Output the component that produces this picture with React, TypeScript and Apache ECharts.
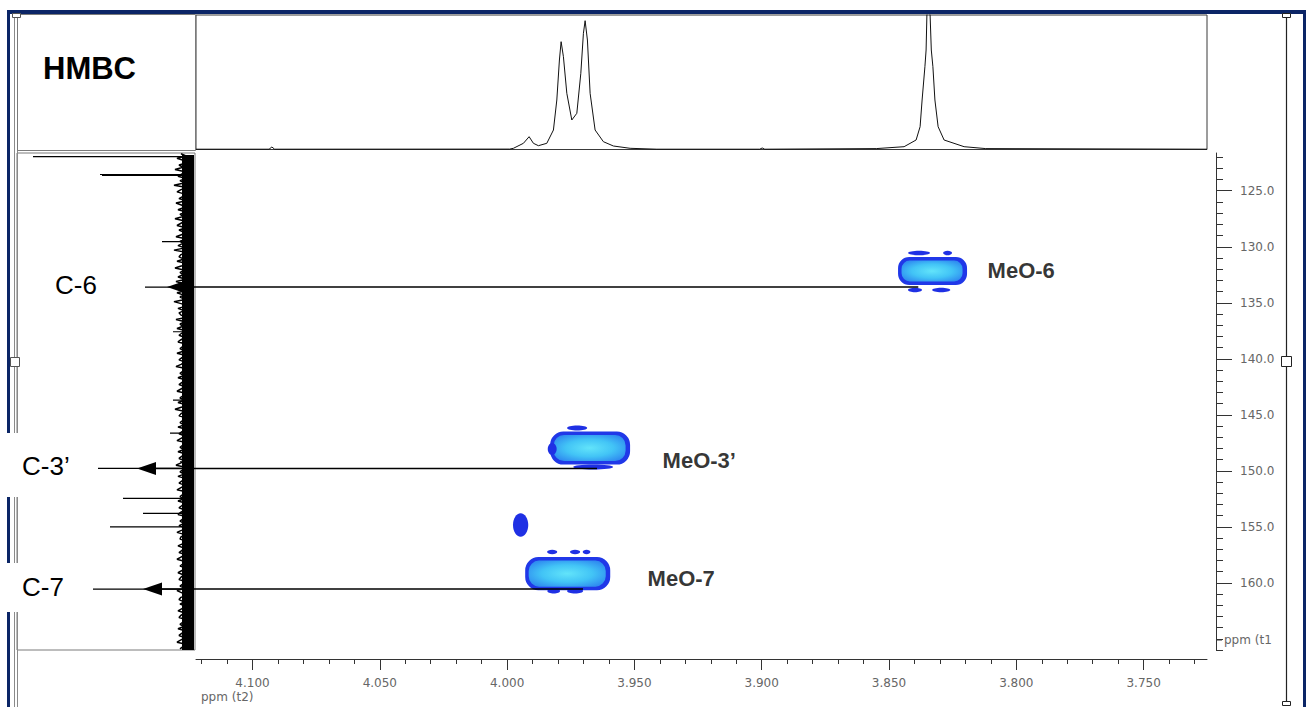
import React, { useEffect, useRef } from 'react';
import * as echarts from 'echarts';

// ---- axis ranges (ppm) ----
const X_MIN = 3.7251;
const X_MAX = 4.1222;
const Y_MIN = 121.63;
const Y_MAX = 166.0;

// ---- tick labels ----
const xMajorTicks = [4.1, 4.05, 4.0, 3.95, 3.9, 3.85, 3.8, 3.75];
const xTickLabels = ['4.100', '4.050', '4.000', '3.950', '3.900', '3.850', '3.800', '3.750'];
const yMajorTicks = [125, 130, 135, 140, 145, 150, 155, 160];
const yTickLabels = ['125.0', '130.0', '135.0', '140.0', '145.0', '150.0', '155.0', '160.0'];

// ---- 1H projection (top): [ppm, intensity] ----
const topSpectrum: [number, number][] = [
  [4.1222, 0.3], [4.0935, 0.3], [4.0924, 2.5], [4.0913, 0.3],
  [3.999, 0.4], [3.99753, 1.2], [3.9936, 6.2], [3.99136, 12.8], [3.98967, 6.2], [3.98771, 3.8],
  [3.98441, 6.2], [3.98181, 19.5], [3.98048, 49.5], [3.97946, 89.5], [3.97879, 107.8], [3.97789, 92.8],
  [3.97655, 56.2], [3.97459, 29.5], [3.97262, 36.2], [3.97105, 76.2], [3.97003, 116.2], [3.96936, 128.8],
  [3.96846, 109.5], [3.9674, 56.2], [3.96544, 19.5], [3.96218, 7.8], [3.95825, 3.5], [3.95169, 1.2],
  [3.9412, 0.3], [3.9008, 0.3], [3.8998, 1.5], [3.8988, 0.3],
  [3.855, 0.9], [3.84407, 2.8], [3.83936, 9.5], [3.83779, 22.8], [3.837, 49.5], [3.8359, 82.8],
  [3.83543, 99.5], [3.83512, 134.5], [3.83464, 140], [3.83386, 134.5], [3.83339, 99.5], [3.83276, 82.8],
  [3.83197, 49.5], [3.83071, 22.8], [3.82836, 9.5], [3.8205, 2.8], [3.812, 0.9], [3.7251, 0.3],
];

// ---- 13C projection (left): noise sampled from 121.7 ppm every 0.2 ppm ----
const leftNoiseStart = 121.7;
const leftNoiseStep = 0.2;
const leftNoise = [
  9, 4, 13, 6, 3, 11, 7, 15, 5, 8, 12, 4, 10, 6, 16, 3, 9, 13, 5, 7, 11, 4, 14, 8, 6, 12, 3, 10, 7, 15, 5, 9, 13, 4, 11, 6, 8, 14, 3, 10,
  7, 12, 5, 16, 4, 9, 11, 6, 13, 3, 8, 15, 5, 10, 7, 12, 4, 14, 6, 9, 11, 3, 13, 7, 10, 5, 16, 8, 4, 12, 6, 11, 9, 3, 14, 5, 10, 7, 13, 4,
  8, 11, 5, 9, 12, 3, 7, 10, 6, 13, 4, 8, 11, 5, 9, 14, 3, 7, 10, 6, 12, 4, 8, 11, 5, 9, 13, 3, 7, 10, 6, 12, 4, 8, 15, 5, 9, 11, 3, 7,
  10, 6, 12, 4, 8, 11, 5, 9, 13, 3, 7, 10, 6, 12, 4, 8, 11, 5, 9, 14, 3, 7, 10, 6, 12, 4, 8, 11, 5, 9, 13, 3, 7, 10, 6, 12, 4, 8, 11, 5,
  9, 12, 3, 7, 10, 6, 11, 4, 8, 13, 5, 9, 10, 3, 7, 12, 6, 8, 11, 4, 9, 13, 5, 7, 10, 3, 8, 12, 6, 9, 11, 4, 7, 10, 5, 13, 8, 3, 9, 11,
  6, 10, 4, 8, 12, 5, 9, 11, 3, 7, 10, 6, 12, 4, 8, 11, 5, 9, 13, 3, 7, 10,
];
// dense noise floor of the projection: [intensity, ppm from, ppm to]
const leftNoiseFloor: [number, number, number] = [2, 121.8, 166.0];
// carbon signals: [ppm, intensity]
const leftPeaks: [number, number][] = [
  [121.96, 157], [123.55, 90], [123.62, 88], [129.55, 28], [133.6, 45], [137.59, 17], [143.69, 17],
  [146.63, 20], [149.2, 10], [149.79, 92], [152.46, 67], [153.8, 47], [155.0, 80], [160.56, 97],
];

// ---- HMBC cross peaks: [ppm t2, ppm t1, width ppm, height ppm] ----
const mainPeaks: [number, number, number, number][] = [
  [3.8329, 132.17, 0.0271, 2.5],
  [3.9674, 147.97, 0.0314, 2.95],
  [3.9762, 159.18, 0.0334, 2.95],
];
const satellitePeaks: [number, number, number, number][] = [
  [3.9947, 154.85, 0.006, 2.1],
  [3.8382, 130.56, 0.0086, 0.4], [3.827, 130.56, 0.0035, 0.4], [3.8398, 133.87, 0.0055, 0.4], [3.8295, 133.87, 0.0071, 0.4],
  [3.9725, 146.19, 0.0079, 0.45], [3.9662, 149.67, 0.0157, 0.45], [3.9823, 148.06, 0.0035, 1.07],
  [3.9823, 157.26, 0.004, 0.4], [3.9733, 157.26, 0.004, 0.4], [3.9688, 157.26, 0.003, 0.4],
  [3.9817, 160.74, 0.005, 0.45], [3.9733, 160.74, 0.0063, 0.45],
];
const peakLabels = ['MeO-6', 'MeO-3\u2019', 'MeO-7'];
const peakLabelAnchors: [number, number][] = [[3.81147, 132.08], [3.93912, 149.04], [3.94501, 159.58]];

// ---- correlation arrows ----
const carbonLabels = ['C-6', 'C-3\u2019', 'C-7'];
const arrowStartX = [3.8385, 3.9647, 3.9702];
const arrowY = [133.6, 149.79, 160.56];
const arrowTipIntensity = [23, 53, 47];

const NAVY = '#0b2566';
const SANS = '"Liberation Sans", Arial, sans-serif';
const AXISFONT = '"DejaVu Sans", sans-serif';

export default function App() {
  const ref = useRef<HTMLDivElement>(null);

  useEffect(() => {
    if (!ref.current) return;
    const chart = echarts.init(ref.current, undefined, { renderer: 'svg' });

    const minorX: number[] = [];
    for (let i = 373; i <= 412; i++) minorX.push(i / 100);
    const minorY: number[] = [];
    for (let i = 122; i <= 166; i++) minorY.push(i);

    const leftNoiseData = leftNoise.map((v, i) => [v, leftNoiseStart + i * leftNoiseStep]);
    const leftFloorData = [
      [leftNoiseFloor[0], leftNoiseFloor[1]],
      [leftNoiseFloor[0], leftNoiseFloor[2]],
    ];
    const leftPeakData: number[][] = [];
    leftPeaks.forEach(([p, v]) => {
      leftPeakData.push([0, p], [v, p], [0, p]);
    });
    const blobData = [
      ...mainPeaks.map((p) => [...p, 0]),
      ...satellitePeaks.map((p) => [...p, 1]),
    ];

    const innerGrad = new echarts.graphic.RadialGradient(0.5, 0.5, 0.6, [
      { offset: 0, color: '#62e4fa' },
      { offset: 0.55, color: '#42c4f6' },
      { offset: 1, color: '#2f8cf0' },
    ]);

    const renderBlob = (params: any, api: any) => {
      const c = api.coord([api.value(0), api.value(1)]);
      const s = api.size([api.value(2), api.value(3)]);
      const w = Math.abs(s[0]);
      const h = Math.abs(s[1]);
      const kind = api.value(4);
      if (kind === 1) {
        return {
          type: 'ellipse',
          shape: { cx: c[0], cy: c[1], rx: w / 2, ry: h / 2 },
          style: { fill: '#1f30e4' },
        };
      }
      const x = c[0] - w / 2;
      const y = c[1] - h / 2;
      const inset = 3.5;
      return {
        type: 'group',
        children: [
          { type: 'rect', shape: { x, y, width: w, height: h, r: h * 0.4 }, style: { fill: '#2038e8' } },
          {
            type: 'rect',
            shape: { x: x + inset, y: y + inset, width: w - 2 * inset - 1, height: h - 2 * inset, r: (h - 2 * inset) * 0.4 },
            style: { fill: innerGrad },
          },
        ],
      };
    };

    const option: any = {
      animation: false,
      backgroundColor: '#ffffff',
      grid: [
        { left: 196, top: 153, width: 1011, height: 497, show: false },
        { left: 196, top: 15, width: 1011, height: 134.5, show: true, borderColor: '#3a3a3a', borderWidth: 1 },
        { left: 17, top: 153, width: 178, height: 497, show: true, borderColor: '#7a7a7a', borderWidth: 1 },
      ],
      xAxis: [
        {
          gridIndex: 0, type: 'value', min: X_MIN, max: X_MAX, inverse: true, position: 'bottom', offset: 9,
          axisLine: { show: true, lineStyle: { color: '#333', width: 1 } },
          axisTick: { show: true, length: 11, customValues: xMajorTicks, lineStyle: { color: '#333' } },
          axisLabel: {
            show: true, customValues: xMajorTicks, margin: 18, color: '#666', fontSize: 12, fontFamily: AXISFONT,
            formatter: (v: number) => {
              const i = xMajorTicks.findIndex((t) => Math.abs(t - v) < 1e-6);
              return i >= 0 ? xTickLabels[i] : '';
            },
          },
          splitLine: { show: false },
        },
        {
          gridIndex: 0, type: 'value', min: X_MIN, max: X_MAX, inverse: true, position: 'bottom', offset: 9,
          axisLine: { show: false },
          axisTick: { show: true, length: 5, customValues: minorX, lineStyle: { color: '#333' } },
          axisLabel: { show: false },
          splitLine: { show: false },
        },
        { gridIndex: 1, type: 'value', min: X_MIN, max: X_MAX, inverse: true, show: false },
        { gridIndex: 2, type: 'value', min: -5, max: 173, inverse: true, show: false },
      ],
      yAxis: [
        {
          gridIndex: 0, type: 'value', min: Y_MIN, max: Y_MAX, inverse: true, position: 'right', offset: 9,
          axisLine: { show: true, lineStyle: { color: '#333', width: 1 } },
          axisTick: { show: true, length: 16, customValues: yMajorTicks, lineStyle: { color: '#333' } },
          axisLabel: {
            show: true, customValues: yMajorTicks, margin: 24, color: '#666', fontSize: 12, fontFamily: AXISFONT,
            formatter: (v: number) => {
              const i = yMajorTicks.findIndex((t) => Math.abs(t - v) < 1e-6);
              return i >= 0 ? yTickLabels[i] : '';
            },
          },
          splitLine: { show: false },
        },
        {
          gridIndex: 0, type: 'value', min: Y_MIN, max: Y_MAX, inverse: true, position: 'right', offset: 9,
          axisLine: { show: false },
          axisTick: { show: true, length: 7, customValues: minorY, lineStyle: { color: '#333' } },
          axisLabel: { show: false },
          splitLine: { show: false },
        },
        { gridIndex: 1, type: 'value', min: 0, max: 134.5, show: false },
        { gridIndex: 2, type: 'value', min: Y_MIN, max: Y_MAX, inverse: true, show: false },
      ],
      series: [
        {
          type: 'line', xAxisIndex: 2, yAxisIndex: 2, data: topSpectrum, showSymbol: false, symbol: 'none',
          lineStyle: { color: '#111', width: 1 }, clip: true, z: 3,
        },
        {
          type: 'line', xAxisIndex: 3, yAxisIndex: 3, data: leftFloorData, showSymbol: false, symbol: 'none',
          lineStyle: { color: '#000', width: 12 }, clip: true, z: 3,
        },
        {
          type: 'line', xAxisIndex: 3, yAxisIndex: 3, data: leftNoiseData, showSymbol: false, symbol: 'none',
          lineStyle: { color: '#000', width: 1.5 }, clip: true, z: 3,
        },
        {
          type: 'line', xAxisIndex: 3, yAxisIndex: 3, data: leftPeakData, showSymbol: false, symbol: 'none',
          lineStyle: { color: '#000', width: 1.2 }, clip: true, z: 3,
        },
        {
          type: 'custom', xAxisIndex: 0, yAxisIndex: 0, data: blobData, renderItem: renderBlob, clip: true, z: 4,
        },
        {
          type: 'scatter', xAxisIndex: 0, yAxisIndex: 0, symbolSize: 1,
          itemStyle: { color: 'rgba(0,0,0,0)' },
          data: peakLabels.map((n, i) => ({ name: n, value: peakLabelAnchors[i] })),
          label: {
            show: true, position: 'right', distance: 0, formatter: '{b}',
            color: '#000', fontSize: 22, fontWeight: 'bold', fontFamily: SANS,
          },
          z: 6,
        },
      ],
    };
    chart.setOption(option);

    // frame & annotations
    const graphics: any[] = [
      { type: 'rect', z: 50, shape: { x: 7, y: 10, width: 1299, height: 4 }, style: { fill: NAVY } },
      { type: 'rect', z: 50, shape: { x: 7, y: 10, width: 3, height: 700 }, style: { fill: NAVY } },
      { type: 'rect', z: 50, shape: { x: 1303, y: 10, width: 3, height: 700 }, style: { fill: NAVY } },
      { type: 'line', z: 50, shape: { x1: 14.5, y1: 14, x2: 14.5, y2: 707 }, style: { stroke: '#8a8a8a', lineWidth: 1 } },
      { type: 'line', z: 50, shape: { x1: 17.5, y1: 14, x2: 17.5, y2: 707 }, style: { stroke: '#8a8a8a', lineWidth: 1 } },
      { type: 'line', z: 50, shape: { x1: 1286.5, y1: 14, x2: 1286.5, y2: 705 }, style: { stroke: '#222', lineWidth: 1.2 } },
      { type: 'rect', z: 50, shape: { x: 17.5, y: 14.5, width: 178, height: 136 }, style: { fill: 'none', stroke: '#7a7a7a', lineWidth: 1 } },
      { type: 'rect', z: 51, shape: { x: 1282.5, y: 13.5, width: 8, height: 4 }, style: { fill: '#fff', stroke: '#222', lineWidth: 1 } },
      { type: 'rect', z: 51, shape: { x: 1281.5, y: 356.5, width: 10, height: 10 }, style: { fill: '#fff', stroke: '#222', lineWidth: 1 } },
      { type: 'rect', z: 51, shape: { x: 1282.5, y: 701.5, width: 8, height: 4 }, style: { fill: '#fff', stroke: '#222', lineWidth: 1 } },
      { type: 'rect', z: 51, shape: { x: 10.5, y: 357.5, width: 9, height: 9 }, style: { fill: '#fff', stroke: '#555', lineWidth: 1 } },
      { type: 'rect', z: 51, shape: { x: 12.5, y: 13.5, width: 8, height: 4 }, style: { fill: '#fff', stroke: '#555', lineWidth: 1 } },
      { type: 'rect', z: 52, shape: { x: 0, y: 433, width: 92, height: 64 }, style: { fill: '#fff' } },
      { type: 'rect', z: 52, shape: { x: 0, y: 563, width: 92, height: 49 }, style: { fill: '#fff' } },
      {
        type: 'text', z: 60, x: 43, y: 68,
        style: { text: 'HMBC', fill: '#000', font: `bold 31px ${SANS}`, align: 'left', verticalAlign: 'middle' },
      },
      {
        type: 'text', z: 60, x: 201, y: 697,
        style: { text: 'ppm (t2)', fill: '#666', font: `12px ${AXISFONT}`, align: 'left', verticalAlign: 'middle' },
      },
      {
        type: 'text', z: 60, x: 1224, y: 640,
        style: { text: 'ppm (t1', fill: '#666', font: `12px ${AXISFONT}`, align: 'left', verticalAlign: 'middle' },
      },
      { type: 'line', z: 55, shape: { x1: 1216, y1: 640, x2: 1222, y2: 640 }, style: { stroke: '#333', lineWidth: 1 } },
    ];

    const carbonLabelX = [55, 22, 22];
    arrowY.forEach((yv, i) => {
      const s = chart.convertToPixel({ xAxisIndex: 0, yAxisIndex: 0 }, [arrowStartX[i], yv]) as number[];
      const t = chart.convertToPixel({ xAxisIndex: 3, yAxisIndex: 3 }, [arrowTipIntensity[i], yv]) as number[];
      graphics.push({
        type: 'line', z: 58, shape: { x1: t[0] + 15, y1: t[1], x2: s[0], y2: s[1] },
        style: { stroke: '#000', lineWidth: 1.5 },
      });
      graphics.push({
        type: 'polygon', z: 58,
        shape: { points: [[t[0], t[1]], [t[0] + 19, t[1] - 6.5], [t[0] + 19, t[1] + 6.5]] },
        style: { fill: '#000' },
      });
      graphics.push({
        type: 'text', z: 60, x: carbonLabelX[i], y: t[1] - 2,
        style: { text: carbonLabels[i], fill: '#000', font: `26px ${SANS}`, align: 'left', verticalAlign: 'middle' },
      });
    });

    chart.setOption({ graphic: graphics });

    return () => chart.dispose();
  }, []);

  return (
    <div
      ref={ref}
      style={{ position: 'fixed', left: 0, top: 0, width: 1307, height: 707, background: '#fff' }}
    />
  );
}
